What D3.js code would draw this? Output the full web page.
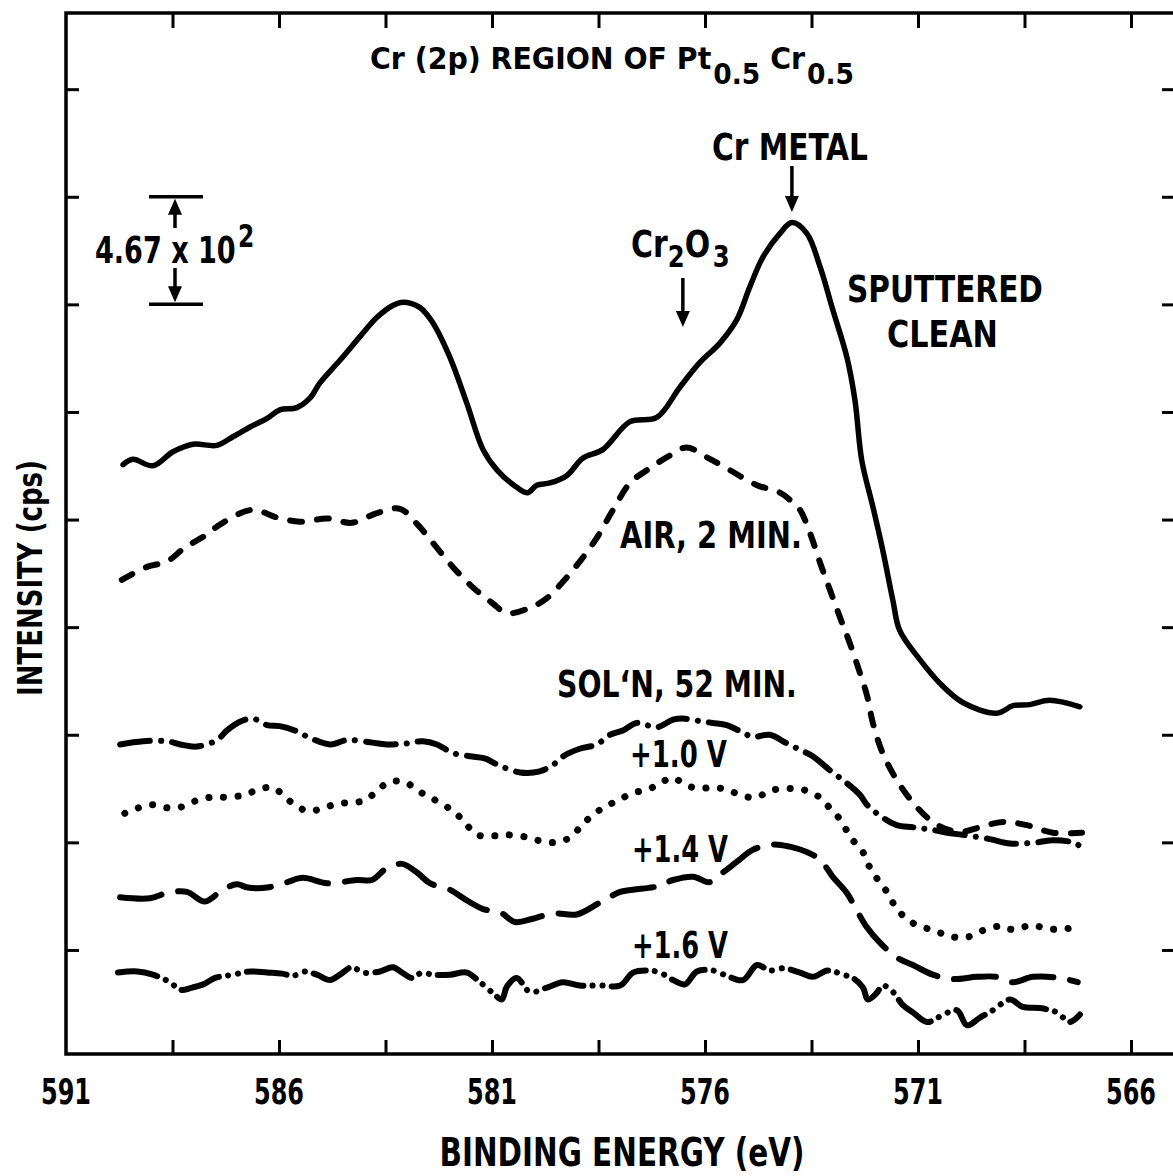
<!DOCTYPE html>
<html>
<head>
<meta charset="utf-8">
<script src="https://cdn.jsdelivr.net/npm/d3@7"></script>
<style>
  body { margin: 0; background: #fff; }
  text { font-family: "DejaVu Sans Condensed", "DejaVu Sans", sans-serif; font-weight: bold; fill: #000; }
</style>
</head>
<body>
<script>
var width = 1173;
var height = 1176;

// plot frame (right edge runs off the page in the original scan)
var frame = {left: 66, top: 13, right: 1176, bottom: 1054};

// binding energy (eV) and intensity in divisions (1 division = 4.67 x 10^2 cps)
var cleanE = [589.66,589.43,588.96,588.49,588.02,587.46,587.08,586.68,586.28,585.98,585.58,585.27,585.04,584.57,584.10,583.70,583.33,583.09,582.69,582.39,581.99,581.59,581.21,580.88,580.42,580.16,579.95,579.64,579.24,578.87,578.40,577.76,577.13,576.59,576.12,575.65,575.25,574.95,574.64,574.24,573.96,573.61,573.30,573.00,572.67,572.48,572.32,572.06,571.83,571.59,571.43,570.96,570.49,569.95,569.15,568.77,568.38,567.91,567.20];
var cleanI = [5.51,5.56,5.50,5.63,5.70,5.69,5.77,5.86,5.94,6.02,6.04,6.13,6.27,6.48,6.70,6.88,6.99,7.02,6.97,6.83,6.51,6.08,5.65,5.46,5.30,5.25,5.32,5.34,5.41,5.57,5.65,5.91,5.95,6.23,6.46,6.64,6.86,7.16,7.44,7.66,7.76,7.66,7.35,6.95,6.51,6.11,5.55,5.12,4.72,4.25,3.97,3.70,3.48,3.30,3.20,3.27,3.28,3.32,3.26];

var airE = [589.69,589.10,588.63,588.21,587.78,587.32,586.63,586.05,585.51,584.87,584.29,583.70,583.16,582.74,582.34,581.92,581.45,580.98,580.65,580.11,579.71,579.34,578.94,578.54,578.16,577.76,577.36,576.89,576.43,575.96,575.42,574.78,574.24,573.94,573.77,573.54,573.30,573.07,572.83,572.60,572.36,572.20,572.06,571.83,571.50,571.12,570.72,570.32,569.95,569.55,569.01,568.45,567.83,567.15];
var airI = [4.44,4.56,4.61,4.74,4.84,4.97,5.09,5.02,4.98,5.01,4.97,5.06,5.10,4.95,4.76,4.56,4.37,4.22,4.13,4.18,4.27,4.42,4.61,4.83,5.09,5.34,5.46,5.58,5.67,5.58,5.46,5.32,5.25,5.16,5.09,4.88,4.60,4.35,4.09,3.85,3.57,3.37,3.11,2.83,2.58,2.37,2.21,2.12,2.10,2.14,2.19,2.16,2.09,2.09];

var solE = [589.73,589.19,588.63,588.32,587.93,587.46,587.22,586.92,586.61,586.28,585.98,585.63,585.27,584.80,584.41,583.87,583.47,582.99,582.62,582.29,581.92,581.52,581.17,580.86,580.34,579.88,579.57,579.29,578.94,578.54,578.23,577.93,577.60,577.13,576.75,576.52,576.17,575.82,575.49,575.11,574.88,574.48,574.08,573.77,573.47,573.07,572.67,572.36,572.20,571.90,571.50,571.12,570.72,570.32,569.95,569.31,568.84,568.21,567.83,567.37,567.13];
var solI = [2.91,2.94,2.94,2.91,2.89,2.95,3.04,3.12,3.15,3.09,3.08,3.04,2.97,2.91,2.95,2.93,2.91,2.92,2.94,2.91,2.83,2.80,2.78,2.72,2.65,2.66,2.72,2.81,2.87,2.91,3.00,3.04,3.11,3.07,3.14,3.15,3.13,3.11,3.09,3.02,2.98,3.00,2.92,2.86,2.80,2.67,2.55,2.44,2.35,2.25,2.16,2.14,2.12,2.09,2.07,2.03,1.99,2.00,2.02,2.00,1.95];

var v10E = [589.62,589.31,588.96,588.61,588.28,587.93,587.57,587.22,586.82,586.49,586.14,585.86,585.63,585.32,584.94,584.64,584.29,583.98,583.72,583.42,583.04,582.74,582.46,582.10,581.82,581.59,581.35,580.98,580.63,580.20,579.83,579.48,579.15,578.91,578.65,578.35,578.04,577.69,577.34,577.06,576.75,576.52,576.19,575.82,575.49,575.11,574.78,574.48,574.08,573.70,573.35,573.12,572.90,572.72,572.53,572.32,572.20,572.06,571.90,571.73,571.59,571.38,571.12,570.79,570.49,570.18,569.83,569.48,569.08,568.77,568.33,567.98,567.62,567.27];
var v10I = [2.27,2.32,2.35,2.32,2.33,2.39,2.42,2.42,2.44,2.49,2.51,2.42,2.35,2.29,2.32,2.36,2.37,2.39,2.47,2.56,2.56,2.48,2.42,2.34,2.26,2.16,2.07,2.06,2.07,2.05,2.01,2.00,2.05,2.15,2.25,2.33,2.39,2.46,2.49,2.55,2.60,2.55,2.50,2.51,2.49,2.43,2.42,2.48,2.50,2.49,2.43,2.34,2.25,2.14,2.02,1.93,1.82,1.72,1.63,1.54,1.44,1.33,1.25,1.20,1.16,1.12,1.12,1.18,1.22,1.19,1.23,1.20,1.19,1.22];

var v14E = [589.73,589.03,588.63,588.16,587.74,587.32,586.99,586.73,586.28,585.81,585.44,584.87,584.17,583.82,583.47,583.11,582.76,582.46,581.99,581.59,581.21,580.81,580.46,580.04,579.57,579.01,578.47,577.99,577.69,577.13,576.75,576.28,575.89,575.58,575.25,574.88,574.41,574.01,573.61,573.30,573.00,572.67,572.44,572.20,571.90,571.50,571.12,570.65,570.18,569.62,569.15,568.77,568.30,567.67,567.25];
var v14I = [1.49,1.48,1.53,1.54,1.45,1.56,1.61,1.58,1.58,1.63,1.67,1.62,1.65,1.65,1.76,1.80,1.72,1.62,1.56,1.46,1.38,1.35,1.26,1.29,1.34,1.33,1.44,1.54,1.56,1.59,1.65,1.68,1.63,1.72,1.82,1.93,1.98,1.96,1.91,1.84,1.68,1.53,1.37,1.21,1.07,0.93,0.86,0.77,0.73,0.75,0.75,0.70,0.75,0.74,0.70];

var v16E = [589.78,589.33,588.96,588.56,588.32,588.04,587.78,587.50,587.08,586.68,586.28,585.93,585.67,585.39,585.11,584.80,584.57,584.29,584.03,583.63,583.33,583.11,582.88,582.64,582.39,581.99,581.59,581.28,580.98,580.77,580.65,580.42,580.11,579.71,579.34,578.94,578.47,577.99,577.69,577.36,577.06,576.75,576.47,576.19,575.82,575.49,575.11,574.78,574.48,574.17,573.77,573.47,573.12,572.76,572.53,572.29,572.18,571.97,571.83,571.59,571.36,571.12,570.79,570.49,570.09,569.85,569.55,569.24,568.84,568.54,568.14,567.74,567.44,567.20];
var v16I = [0.79,0.80,0.77,0.70,0.63,0.65,0.68,0.74,0.77,0.80,0.79,0.78,0.76,0.80,0.77,0.72,0.77,0.84,0.79,0.80,0.84,0.79,0.74,0.79,0.77,0.77,0.79,0.70,0.60,0.54,0.66,0.74,0.61,0.65,0.70,0.67,0.67,0.67,0.79,0.81,0.79,0.72,0.68,0.80,0.81,0.76,0.72,0.86,0.81,0.83,0.79,0.75,0.81,0.77,0.74,0.65,0.54,0.60,0.67,0.61,0.49,0.42,0.33,0.38,0.44,0.30,0.37,0.44,0.54,0.47,0.46,0.42,0.33,0.40];

var xTicks = [588.5,586,583.5,581,578.5,576,573.5,571,568.5,566];
var xLabels = [591,586,581,576,571,566];
var yTicks = [1,2,3,4,5,6,7,8,9];

var xScale = d3.scaleLinear()
  .domain([591, 566])
  .range([frame.left, 1131]);

var yScale = d3.scaleLinear()
  .domain([0.033, 9.708])
  .range([frame.bottom, frame.top]);

var svg = d3.select("body")
    .append("svg")
    .attr("width", width)
    .attr("height", height);

// squeeze (or stretch) a text sideways to the width it has in the original
function fit(sel, len, rot) {
  sel.each(function() {
    var node = d3.select(this);
    var x = +node.attr("x") || 0, y = +node.attr("y") || 0;
    var k = len / this.getComputedTextLength();
    node.attr("x", 0).attr("y", 0)
      .attr("transform", "translate(" + x + "," + y + ")" + (rot ? " rotate(" + rot + ")" : "") + " scale(" + k + ",1)");
  });
  return sel;
}

// ticks on all four sides, pointing inward
svg.append("g")
  .attr("transform", "translate(0," + frame.top + ")")
  .call(d3.axisBottom(xScale).tickValues(xTicks).tickSize(15).tickSizeOuter(0).tickFormat(""));
svg.append("g")
  .attr("transform", "translate(0," + frame.bottom + ")")
  .call(d3.axisTop(xScale).tickValues(xTicks).tickSize(14).tickSizeOuter(0).tickFormat(""));
svg.append("g")
  .attr("transform", "translate(" + frame.left + ",0)")
  .call(d3.axisRight(yScale).tickValues(yTicks).tickSize(13).tickSizeOuter(0).tickFormat(""));
svg.append("g")
  .attr("transform", "translate(" + frame.right + ",0)")
  .call(d3.axisLeft(yScale).tickValues(yTicks).tickSize(14).tickSizeOuter(0).tickFormat(""));

svg.selectAll(".domain").remove();
svg.selectAll(".tick line").attr("stroke", "#000").attr("stroke-width", 3);

svg.append("rect")
  .attr("x", frame.left)
  .attr("y", frame.top)
  .attr("width", frame.right - frame.left)
  .attr("height", frame.bottom - frame.top)
  .attr("fill", "none")
  .attr("stroke", "#000")
  .attr("stroke-width", 3.5);

fit(svg.selectAll(".xlab")
  .data(xLabels)
  .enter()
  .append("text")
    .attr("class", "xlab")
    .attr("x", function(d) { return xScale(d); })
    .attr("y", 1104)
    .attr("text-anchor", "middle")
    .attr("font-size", 36)
    .text(function(d) { return d; }), 50);

fit(svg.append("text")
  .attr("x", 622)
  .attr("y", 1166)
  .attr("text-anchor", "middle")
  .attr("font-size", 39)
  .text("BINDING ENERGY (eV)"), 365);

fit(svg.append("text")
  .attr("x", 42)
  .attr("y", 578)
  .attr("text-anchor", "middle")
  .attr("font-size", 33)
  .text("INTENSITY (cps)"), 236, -90);

// spectra
var series = [
  {e: cleanE, v: cleanI, dash: null, w: 5.5},
  {e: airE, v: airI, dash: "12,15", w: 6},
  {e: solE, v: solI, dash: "30,11,0.1,11", w: 6},
  {e: v10E, v: v10I, dash: "0.1,14.5", w: 7},
  {e: v14E, v: v14I, dash: "42,17", w: 6},
  {e: v16E, v: v16I, dash: "40,9,0.1,10,0.1,9", w: 6}
];

var line = d3.line()
  .x(function(d) { return xScale(d[0]); })
  .y(function(d) { return yScale(d[1]); })
  .curve(d3.curveCatmullRom.alpha(0.5));

svg.selectAll(".spectrum")
  .data(series)
  .enter()
  .append("path")
    .attr("class", "spectrum")
    .attr("d", function(s) { return line(d3.zip(s.e, s.v)); })
    .attr("fill", "none")
    .attr("stroke", "#000")
    .attr("stroke-width", function(s) { return s.w; })
    .attr("stroke-linecap", "round")
    .attr("stroke-linejoin", "round")
    .attr("stroke-dasharray", function(s) { return s.dash; });

// down arrows and the scale bar arrows
function arrow(x, y1, y2) {
  var dir = y2 > y1 ? 1 : -1;
  svg.append("line")
    .attr("x1", x).attr("x2", x)
    .attr("y1", y1).attr("y2", y2 - dir * 12)
    .attr("stroke", "#000").attr("stroke-width", 3.5);
  svg.append("path")
    .attr("d", "M" + (x - 7) + "," + (y2 - dir * 16) + "L" + (x + 7) + "," + (y2 - dir * 16) + "L" + x + "," + y2 + "Z")
    .attr("fill", "#000");
}

var crMetal = 573.96;
var crOxide = 576.52;
arrow(xScale(crMetal), 166, 212);
arrow(xScale(crOxide), 278, 327);

// scale bar: one division
var barTop = yScale(8), barBottom = yScale(7);
[barTop, barBottom].forEach(function(y) {
  svg.append("line")
    .attr("x1", 149).attr("x2", 203)
    .attr("y1", y).attr("y2", y)
    .attr("stroke", "#000").attr("stroke-width", 3.5);
});
arrow(175, 228, barTop + 2);
arrow(175, 268, barBottom - 2);

var scaleText = svg.append("text")
  .attr("x", 95).attr("y", 263)
  .attr("font-size", 37)
  .text("4.67 x 10");
scaleText.append("tspan").attr("dx", 3).attr("dy", -16).attr("font-size", 32).text("2");
fit(scaleText, 157);

// title with subscripts
var title = svg.append("text")
  .attr("x", 370).attr("y", 69)
  .attr("font-size", 30)
  .text("Cr (2p) REGION OF Pt");
title.append("tspan").attr("dx", 2).attr("dy", 15).attr("font-size", 28).text("0.5");
title.append("tspan").attr("dy", -15).text(" Cr");
title.append("tspan").attr("dx", 2).attr("dy", 15).attr("font-size", 28).text("0.5");
fit(title, 480);

fit(svg.append("text")
  .attr("x", 712).attr("y", 160)
  .attr("font-size", 38)
  .text("Cr METAL"), 156);

var oxide = svg.append("text")
  .attr("x", 631).attr("y", 257)
  .attr("font-size", 37)
  .text("Cr");
oxide.append("tspan").attr("dy", 10).attr("font-size", 30).text("2");
oxide.append("tspan").attr("dy", -10).text("O");
oxide.append("tspan").attr("dx", 3).attr("dy", 10).attr("font-size", 30).text("3");
fit(oxide, 96);

var labels = [
  {t: "SPUTTERED", x: 847, y: 302, w: 196},
  {t: "CLEAN", x: 887, y: 347, w: 111},
  {t: "AIR, 2 MIN.", x: 620, y: 548, w: 182},
  {t: "SOL\u2018N, 52 MIN.", x: 557, y: 697, w: 240},
  {t: "+1.0 V", x: 630, y: 767, w: 97},
  {t: "+1.4 V", x: 632, y: 862, w: 96},
  {t: "+1.6 V", x: 632, y: 958, w: 96}
];
labels.forEach(function(d) {
  fit(svg.append("text")
    .attr("x", d.x).attr("y", d.y)
    .attr("font-size", 37)
    .text(d.t), d.w);
});
</script>
</body>
</html>
